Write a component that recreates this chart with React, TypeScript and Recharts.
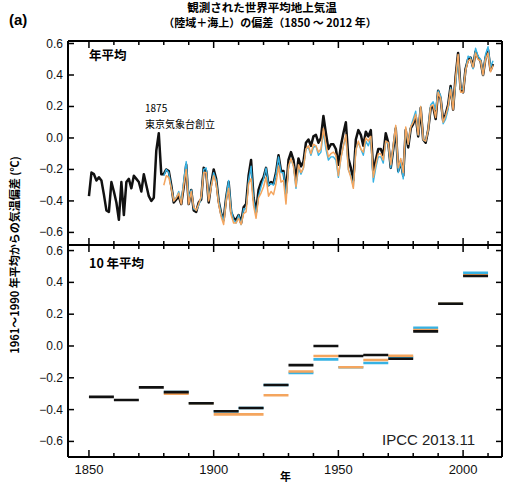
import { Line, LineChart, XAxis, YAxis } from "recharts";

// 世界平均地上気温偏差（1961〜1990年平均からの偏差, ℃）
const startYear = 1850;
const hadcrut4 = [
  -0.37, -0.22, -0.23, -0.27, -0.25, -0.27, -0.36, -0.46, -0.47, -0.28,
  -0.34, -0.41, -0.52, -0.28, -0.49, -0.28, -0.26, -0.32, -0.24, -0.26,
  -0.28, -0.34, -0.23, -0.3, -0.37, -0.4, -0.38, -0.08, 0.03, -0.23,
  -0.23, -0.2, -0.21, -0.3, -0.41, -0.39, -0.37, -0.42, -0.31, -0.17,
  -0.42, -0.33, -0.46, -0.47, -0.41, -0.39, -0.19, -0.21, -0.41, -0.29,
  -0.2, -0.26, -0.4, -0.48, -0.52, -0.38, -0.28, -0.47, -0.51, -0.52,
  -0.49, -0.54, -0.44, -0.42, -0.24, -0.14, -0.38, -0.47, -0.33, -0.28,
  -0.25, -0.19, -0.3, -0.28, -0.29, -0.22, -0.11, -0.21, -0.21, -0.35,
  -0.14, -0.09, -0.14, -0.27, -0.13, -0.18, -0.15, -0.03, -0.01, -0.05,
  0.01, 0.02, -0.03, 0.0, 0.14, 0.03, -0.07, -0.04, -0.04, -0.07,
  -0.17, -0.05, 0.03, 0.1, -0.13, -0.19, -0.27, -0.01, 0.05, 0.02,
  -0.05, 0.04, 0.01, 0.05, -0.22, -0.14, -0.07, -0.07, -0.11, 0.03,
  -0.03, -0.19, -0.07, 0.06, -0.21, -0.15, -0.24, 0.05, -0.06, 0.06,
  0.09, 0.14, 0.01, 0.19, -0.01, -0.03, 0.05, 0.19, 0.2, 0.12,
  0.3, 0.25, 0.11, 0.15, 0.21, 0.33, 0.18, 0.39, 0.54, 0.31,
  0.29, 0.44, 0.5, 0.51, 0.45, 0.55, 0.51, 0.49, 0.4, 0.51,
  0.56, 0.43, 0.47,
];

// 1880年から
const otherStart = 1880;
const mlost = [
  -0.3, -0.24, -0.25, -0.32, -0.4, -0.38, -0.35, -0.42, -0.3, -0.2,
  -0.42, -0.34, -0.44, -0.46, -0.42, -0.37, -0.22, -0.22, -0.4, -0.31,
  -0.24, -0.29, -0.42, -0.5, -0.55, -0.4, -0.32, -0.49, -0.54, -0.54,
  -0.51, -0.55, -0.48, -0.47, -0.29, -0.26, -0.43, -0.51, -0.38, -0.35,
  -0.31, -0.25, -0.37, -0.34, -0.36, -0.29, -0.18, -0.28, -0.27, -0.42,
  -0.18, -0.13, -0.18, -0.31, -0.17, -0.22, -0.19, -0.07, -0.05, -0.1,
  -0.04, -0.05, -0.09, -0.07, 0.06, -0.04, -0.12, -0.1, -0.09, -0.11,
  -0.24, -0.13, -0.05, 0.02, -0.2, -0.25, -0.32, -0.08, -0.02, -0.07,
  -0.09, 0.0, -0.02, 0.01, -0.25, -0.17, -0.1, -0.1, -0.14, -0.02,
  -0.03, -0.17, -0.05, 0.08, -0.19, -0.13, -0.22, 0.07, -0.04, 0.07,
  0.1, 0.15, 0.02, 0.2, -0.01, -0.02, 0.05, 0.2, 0.21, 0.13,
  0.29, 0.25, 0.1, 0.14, 0.2, 0.31, 0.18, 0.38, 0.53, 0.29,
  0.29, 0.43, 0.49, 0.5, 0.45, 0.54, 0.5, 0.49, 0.4, 0.5,
  0.54, 0.42, 0.46,
];
const giss = [
  -0.24, -0.2, -0.22, -0.31, -0.4, -0.38, -0.34, -0.41, -0.27, -0.15,
  -0.38, -0.33, -0.45, -0.46, -0.43, -0.38, -0.2, -0.19, -0.39, -0.3,
  -0.22, -0.27, -0.4, -0.48, -0.53, -0.38, -0.27, -0.45, -0.52, -0.54,
  -0.49, -0.55, -0.45, -0.45, -0.27, -0.18, -0.39, -0.49, -0.37, -0.31,
  -0.26, -0.19, -0.3, -0.29, -0.3, -0.23, -0.12, -0.22, -0.22, -0.38,
  -0.19, -0.13, -0.18, -0.32, -0.19, -0.23, -0.19, -0.07, -0.06, -0.11,
  -0.06, -0.05, -0.11, -0.09, 0.04, -0.07, -0.14, -0.12, -0.12, -0.14,
  -0.25, -0.13, -0.05, 0.01, -0.2, -0.24, -0.31, -0.07, -0.03, -0.07,
  -0.11, -0.02, -0.05, 0.0, -0.28, -0.19, -0.12, -0.12, -0.16, -0.02,
  -0.04, -0.19, -0.06, 0.07, -0.22, -0.15, -0.26, 0.06, -0.04, 0.07,
  0.12, 0.17, 0.02, 0.2, -0.01, -0.02, 0.05, 0.21, 0.23, 0.18,
  0.3, 0.27, 0.09, 0.12, 0.18, 0.32, 0.2, 0.34, 0.52, 0.31,
  0.31, 0.43, 0.52, 0.51, 0.44, 0.57, 0.52, 0.5, 0.4, 0.53,
  0.58, 0.45, 0.49,
];

// 10年平均
const decadeStarts = [1850, 1860, 1870, 1880, 1890, 1900, 1910, 1920, 1930, 1940, 1950, 1960, 1970, 1980, 1990, 2000];
const hadDecadal = [-0.32, -0.34, -0.26, -0.29, -0.36, -0.41, -0.39, -0.245, -0.12, 0.0, -0.063, -0.057, -0.08, 0.092, 0.266, 0.44];
const mlostDecadal = [null, null, null, -0.3, -0.36, -0.43, -0.43, -0.31, -0.16, -0.063, -0.134, -0.088, -0.061, 0.1, 0.266, 0.445];
const gissDecadal = [null, null, null, -0.29, -0.36, -0.41, -0.39, -0.245, -0.17, -0.084, -0.134, -0.107, -0.07, 0.115, 0.266, 0.46];

const xTicks = [1850, 1860, 1870, 1880, 1890, 1900, 1910, 1920, 1930, 1940, 1950, 1960, 1970, 1980, 1990, 2000, 2010];
const yTicks = [-0.6, -0.4, -0.2, 0, 0.2, 0.4, 0.6];

const BLACK = "#111111";
const ORANGE = "#f4a55e";
const BLUE = "#36b2e4";
const FONT = "'Liberation Sans', Arial, 'Noto Sans CJK JP', sans-serif";
const JP = "'Noto Sans CJK JP', 'Liberation Sans', sans-serif";

const xDomain = [1841.6, 2015.6];
const annual = hadcrut4.map((v, i) => {
  const year = startYear + i;
  const j = year - otherStart;
  return {
    year,
    had: v,
    mlost: j >= 0 ? mlost[j] : null,
    giss: j >= 0 ? giss[j] : null,
  };
});

const toSegments = (vals: (number | null)[]) =>
  vals.flatMap((v, i) =>
    v == null
      ? []
      : [
          { x: decadeStarts[i], y: v },
          { x: decadeStarts[i] + 10, y: v },
          { x: decadeStarts[i] + 10, y: null },
        ]
  );

const fmt = (v: number) => (v < 0 ? "\u2212" : "") + Math.abs(v).toFixed(1);

const xTick = (dir: number, labels: boolean) => (p: any) => {
  const major = p.payload.value % 50 === 0;
  const len = major ? 7 : 4;
  return (
    <g>
      <line x1={p.x} x2={p.x} y1={p.y} y2={p.y + dir * len} stroke="#000" strokeWidth={1.5} />
      {labels && major && (
        <text x={p.x} y={p.y + 17} textAnchor="middle" fontSize={13} fontFamily={FONT} fill="#111">
          {p.payload.value}
        </text>
      )}
    </g>
  );
};

const yTick = (dir: number, labels: boolean) => (p: any) => (
  <g>
    <line x1={p.x} x2={p.x + dir * 6} y1={p.y} y2={p.y} stroke="#000" strokeWidth={1.5} />
    {labels && (
      <text x={p.x - 5} y={p.y + 4} textAnchor="end" fontSize={12} fontFamily={FONT} fill="#111">
        {fmt(p.payload.value)}
      </text>
    )}
  </g>
);

const axisLine = { stroke: "#000", strokeWidth: 2 };

const abs = (left: number, top: number, extra: any = {}) => ({
  position: "absolute" as const,
  left,
  top,
  whiteSpace: "nowrap" as const,
  ...extra,
});

export default function App() {
  return (
    <div style={{ position: "absolute", left: 0, top: 0, width: 506, height: 483, background: "#fff", fontFamily: FONT, overflow: "hidden" }}>
      <div style={abs(9, 12, { fontSize: 15, fontWeight: "bold", lineHeight: "16px" })}>(a)</div>
      <div style={abs(112, 1, { width: 300, textAlign: "center", fontSize: 11.5, fontWeight: "bold", lineHeight: "13px", fontFamily: JP })}>
        観測された世界平均地上気温
      </div>
      <div style={abs(120, 16, { width: 300, textAlign: "center", fontSize: 11, fontWeight: "bold", lineHeight: "13px", fontFamily: JP })}>
        （陸域＋海上）の偏差（1850 ～ 2012 年）
      </div>

      {/* 年平均 */}
      <div style={abs(0, 0)}>
        <LineChart width={506} height={246} data={annual} margin={{ top: 40, right: 3, bottom: 0, left: 67 }}>
          <XAxis dataKey="year" type="number" domain={xDomain} allowDataOverflow ticks={xTicks} interval={0}
            height={1} tickSize={0} tickMargin={0} tickLine={false} axisLine={axisLine} tick={xTick(-1, false)} />
          <XAxis xAxisId="top" orientation="top" dataKey="year" type="number" domain={xDomain} allowDataOverflow ticks={xTicks} interval={0}
            height={1} tickSize={0} tickMargin={0} tickLine={false} axisLine={axisLine} tick={xTick(1, false)} />
          <YAxis type="number" domain={[-0.68, 0.616]} allowDataOverflow ticks={yTicks} interval={0}
            width={1} tickSize={0} tickMargin={0} tickLine={false} axisLine={axisLine} tick={yTick(1, true)} />
          <YAxis yAxisId="right" orientation="right" type="number" domain={[-0.68, 0.616]} allowDataOverflow ticks={yTicks} interval={0}
            width={1} tickSize={0} tickMargin={0} tickLine={false} axisLine={axisLine} tick={yTick(-1, false)} />
          <Line dataKey="had" stroke={BLACK} strokeWidth={2.5} dot={false} isAnimationActive={false} strokeLinejoin="round" />
          <Line dataKey="giss" stroke={BLUE} strokeWidth={1.4} dot={false} isAnimationActive={false} strokeLinejoin="round" />
          <Line dataKey="mlost" stroke={ORANGE} strokeWidth={1.5} dot={false} isAnimationActive={false} strokeLinejoin="round" />
        </LineChart>
      </div>

      {/* 10年平均 */}
      <div style={abs(0, 244)}>
        <LineChart width={506} height={239} margin={{ top: 0, right: 3, bottom: 25, left: 67 }}>
          <XAxis dataKey="x" type="number" domain={xDomain} allowDataOverflow ticks={xTicks} interval={0}
            height={1} tickSize={0} tickMargin={0} tickLine={false} axisLine={axisLine} tick={xTick(-1, true)} />
          <XAxis xAxisId="top" orientation="top" dataKey="x" type="number" domain={xDomain} allowDataOverflow ticks={xTicks} interval={0}
            height={1} tickSize={0} tickMargin={0} tickLine={false} axisLine={axisLine} tick={xTick(1, false)} />
          <YAxis type="number" domain={[-0.698, 0.635]} allowDataOverflow ticks={yTicks} interval={0}
            width={1} tickSize={0} tickMargin={0} tickLine={false} axisLine={axisLine} tick={yTick(1, true)} />
          <YAxis yAxisId="right" orientation="right" type="number" domain={[-0.698, 0.635]} allowDataOverflow ticks={yTicks} interval={0}
            width={1} tickSize={0} tickMargin={0} tickLine={false} axisLine={axisLine} tick={yTick(-1, false)} />
          <Line data={toSegments(gissDecadal)} dataKey="y" stroke={BLUE} strokeWidth={2.6} dot={false} isAnimationActive={false} strokeLinecap="butt" />
          <Line data={toSegments(mlostDecadal)} dataKey="y" stroke={ORANGE} strokeWidth={2.6} dot={false} isAnimationActive={false} strokeLinecap="butt" />
          <Line data={toSegments(hadDecadal)} dataKey="y" stroke={BLACK} strokeWidth={2.6} dot={false} isAnimationActive={false} strokeLinecap="butt" />
        </LineChart>
      </div>

      <div style={abs(89, 48, { fontSize: 12.5, fontWeight: "bold", lineHeight: "14px", fontFamily: JP })}>年平均</div>
      <div style={abs(145, 102, { fontSize: 10, lineHeight: "12px", fontFamily: JP })}>1875</div>
      <div style={abs(145, 117, { fontSize: 10, lineHeight: "13px", fontFamily: JP })}>東京気象台創立</div>
      <div style={abs(89, 256, { fontSize: 12.5, fontWeight: "bold", lineHeight: "14px", fontFamily: JP })}>10 年平均</div>
      <div style={abs(382, 431, { fontSize: 15, lineHeight: "17px", color: "#222" })}>IPCC 2013.11</div>
      <div style={abs(280, 470, { fontSize: 11, fontWeight: "bold", lineHeight: "13px", fontFamily: JP })}>年</div>
      <div
        style={abs(14 - 120, 255 - 7, {
          width: 240,
          textAlign: "center",
          fontSize: 11,
          fontWeight: "bold",
          lineHeight: "14px",
          fontFamily: JP,
          transform: "rotate(-90deg)",
        })}
      >
        1961～1990 年平均からの気温偏差 (℃)
      </div>
    </div>
  );
}
